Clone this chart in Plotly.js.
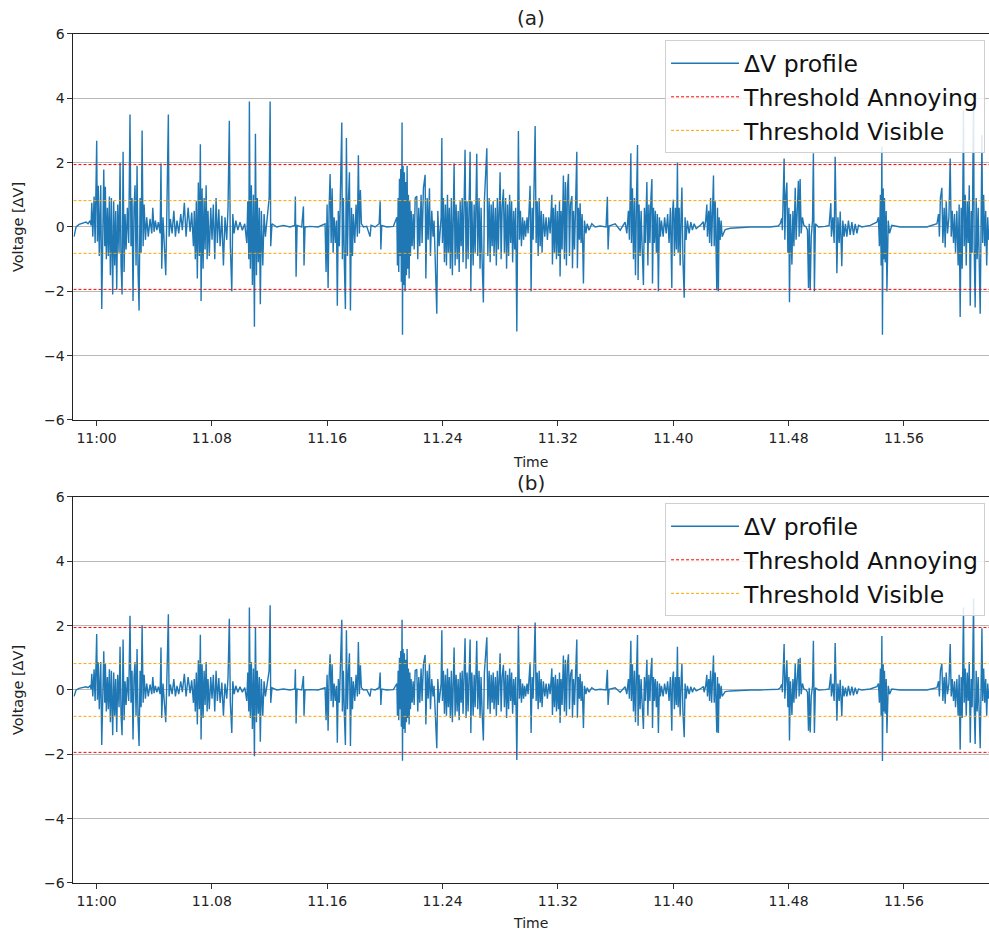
<!DOCTYPE html>
<html><head><meta charset="utf-8">
<script src="https://cdn.plot.ly/plotly-3.0.1.min.js"></script>
<style>html,body{margin:0;padding:0;background:#fff}</style>
</head><body><div id="chart" style="width:989px;height:931px"></div>
<script>
// time in minutes after 11:00
const timeMin = [
-1.56,-1.42,-1.21,-0.94,-0.73,-0.59,-0.45,-0.38,-0.33,-0.26,
-0.17,-0.10,0.01,0.06,0.12,0.19,0.29,0.36,0.43,0.50,
0.57,0.61,0.68,0.75,0.82,0.89,0.96,1.03,1.12,1.19,
1.26,1.33,1.40,1.47,1.56,1.63,1.70,1.77,1.84,1.91,
1.98,2.05,2.14,2.23,2.32,2.39,2.46,2.53,2.60,2.67,
2.74,2.81,2.88,2.95,3.02,3.09,3.16,3.23,3.30,3.39,
3.48,3.59,3.71,3.83,3.90,3.99,4.08,4.18,4.29,4.41,
4.47,4.52,4.61,4.70,4.80,4.87,4.98,5.03,5.12,5.24,
5.36,5.47,5.58,5.70,5.84,5.95,6.09,6.21,6.35,6.49,
6.60,6.72,6.78,6.85,6.92,6.99,7.06,7.13,7.20,7.25,
7.32,7.39,7.46,7.53,7.60,7.67,7.73,7.82,7.92,8.01,
8.10,8.20,8.29,8.38,8.48,8.57,8.69,8.80,8.91,9.03,
9.12,9.21,9.28,9.38,9.45,9.54,9.66,9.80,9.95,10.11,
10.28,10.42,10.49,10.56,10.60,10.67,10.74,10.81,10.88,10.95,
11.02,11.09,11.15,11.22,11.29,11.36,11.43,11.53,11.62,11.71,
11.81,11.90,11.97,12.04,12.08,12.17,12.50,12.96,13.42,13.75,
13.79,13.84,13.91,14.23,14.35,14.39,14.46,14.81,15.37,15.85,
15.92,15.99,16.06,16.13,16.20,16.27,16.34,16.41,16.48,16.57,
16.64,16.70,16.77,16.84,16.91,17.01,17.05,17.12,17.19,17.26,
17.33,17.40,17.47,17.54,17.61,17.68,17.75,17.81,17.91,18.00,
18.09,18.16,18.23,18.30,18.37,18.51,18.74,18.97,19.04,19.32,
19.60,19.67,19.72,19.78,20.13,20.59,20.83,20.87,20.92,20.96,
21.01,21.05,21.10,21.14,21.19,21.22,21.26,21.31,21.35,21.40,
21.45,21.49,21.54,21.59,21.63,21.68,21.73,21.77,21.82,21.89,
21.96,22.03,22.10,22.21,22.28,22.35,22.42,22.51,22.58,22.67,
22.79,22.84,22.93,23.00,23.09,23.16,23.25,23.34,23.41,23.60,
23.67,23.76,23.90,23.95,23.99,24.06,24.13,24.20,24.27,24.34,
24.40,24.47,24.54,24.61,24.68,24.80,24.87,24.94,25.01,25.08,
25.15,25.22,25.29,25.36,25.42,25.49,25.56,25.63,25.70,25.77,
25.84,25.91,25.96,26.03,26.12,26.19,26.26,26.37,26.44,26.53,
26.60,26.67,26.74,26.83,26.90,27.07,27.14,27.23,27.30,27.37,
27.44,27.51,27.57,27.66,27.73,27.80,27.87,27.99,28.06,28.13,
28.22,28.29,28.37,28.44,28.51,28.58,28.65,28.72,28.79,28.86,
28.93,29.00,29.07,29.15,29.26,29.33,29.40,29.47,29.55,29.62,
29.69,29.76,29.86,29.93,30.07,30.14,30.21,30.28,30.42,30.49,
30.56,30.63,30.70,30.77,30.84,30.90,30.99,31.09,31.18,31.27,
31.37,31.46,31.58,31.62,31.69,31.76,31.83,31.90,31.97,32.04,
32.11,32.15,32.22,32.29,32.38,32.45,32.52,32.59,32.66,32.73,
32.80,32.87,32.97,33.01,33.08,33.15,33.21,33.31,33.35,33.42,
33.49,33.54,33.61,33.68,33.77,33.84,33.94,34.03,34.16,34.35,
34.58,34.93,35.34,35.43,35.48,35.55,35.97,36.32,36.66,36.78,
36.89,36.96,37.06,37.10,37.17,37.24,37.31,37.38,37.45,37.52,
37.56,37.63,37.70,37.77,37.84,37.93,38.00,38.07,38.17,38.24,
38.31,38.38,38.45,38.52,38.56,38.63,38.69,38.76,38.83,38.90,
38.97,39.04,39.11,39.18,39.30,39.40,39.51,39.61,39.71,39.80,
39.90,39.94,40.01,40.08,40.15,40.22,40.29,40.34,40.41,40.48,
40.55,40.60,40.67,40.76,40.82,40.89,40.98,41.10,41.22,41.33,
41.45,41.59,41.73,41.87,42.09,42.14,42.25,42.33,42.37,42.46,
42.52,42.59,42.66,42.73,42.79,42.84,42.91,43.02,43.07,43.13,
43.18,43.25,43.32,43.39,43.48,43.60,43.95,44.64,45.33,46.03,
46.72,47.28,47.42,47.53,47.57,47.69,47.74,47.81,47.88,47.95,
48.02,48.06,48.13,48.23,48.30,48.37,48.46,48.52,48.59,48.68,
48.73,48.80,48.87,48.96,49.06,49.22,49.31,49.38,49.43,49.50,
49.57,49.66,49.72,49.79,49.86,50.07,50.54,50.81,50.93,50.97,
51.07,51.16,51.23,51.30,51.35,51.42,51.51,51.58,51.65,51.69,
51.76,51.85,51.94,52.04,52.15,52.27,52.39,52.50,52.62,52.74,
52.85,53.08,53.66,54.12,54.23,54.30,54.37,54.42,54.47,54.51,
54.56,54.61,54.65,54.70,54.77,54.82,54.91,55.00,55.16,55.74,
56.66,57.59,58.29,58.40,58.46,58.53,58.63,58.70,58.79,58.86,
58.93,59.02,59.12,59.21,59.28,59.35,59.44,59.51,59.58,59.67,
59.76,59.83,59.90,59.97,60.04,60.13,60.18,60.25,60.32,60.39,
60.46,60.53,60.60,60.67,60.73,60.83,60.87,60.94,61.01,61.08,
61.15,61.22,61.29,61.41,61.46,61.53,61.60,61.67,61.74,61.81,
61.88,61.98];

// panel (a) voltage deviation
const dvA = [
-0.30,0.00,0.08,0.12,0.15,0.10,0.20,0.05,0.75,-0.30,
0.95,-0.50,2.68,-0.45,1.28,-0.90,1.30,-2.55,0.80,1.79,
-0.60,1.25,-1.00,0.60,-0.90,0.95,-1.50,0.90,-2.10,0.80,
-1.20,0.50,-1.95,0.70,-0.80,2.00,-1.20,-2.10,2.34,-1.40,
0.40,-0.70,0.60,-0.50,3.50,-0.60,0.90,-2.30,0.60,1.30,
-1.20,1.90,-1.40,-2.60,0.90,-0.80,3.00,-0.60,0.70,-0.40,
0.30,-0.30,0.25,-0.20,0.60,-0.15,0.20,-0.10,0.15,-0.20,
1.97,-1.30,0.30,-0.40,-1.50,0.30,3.50,-0.30,0.25,-0.20,
0.50,-0.30,0.20,-0.20,0.40,-0.10,0.75,-0.30,0.60,-0.15,
0.45,-0.60,0.50,-1.00,0.80,-1.60,1.38,-0.90,2.57,-2.30,
1.20,-1.30,0.90,-0.70,1.30,-1.00,0.50,-0.90,0.60,-0.40,
0.70,-1.00,0.90,-0.50,0.55,-0.60,0.35,-1.20,0.30,-0.40,
0.60,3.30,-0.60,-2.00,0.40,-0.20,0.20,-0.10,0.15,-0.10,
0.10,-0.50,0.80,-1.00,3.90,-1.30,1.30,-1.80,1.00,-3.10,
2.90,-1.50,0.90,-1.10,0.60,-2.40,0.50,-1.20,0.40,-0.30,
0.20,0.80,0.90,3.90,-0.60,0.10,0.00,0.05,0.00,0.05,
0.95,-1.55,0.05,0.00,0.64,-1.20,0.00,0.02,0.00,0.10,
-1.40,0.70,-1.90,0.60,1.65,-0.50,1.20,-0.80,0.30,-0.50,
0.20,-2.45,0.50,-0.60,0.80,3.25,-1.00,0.90,-1.20,-2.55,
2.77,-0.90,0.80,1.70,-2.60,0.60,-0.90,0.40,-0.50,0.70,
-0.30,2.23,-0.20,1.15,0.10,0.00,0.02,-0.30,0.05,0.00,
0.10,0.80,-0.70,0.05,0.00,0.02,0.30,-1.20,0.90,-1.40,
1.50,-0.90,1.80,-1.70,3.25,-3.35,1.90,-1.80,1.70,-2.00,
1.40,-1.50,1.90,-1.30,1.00,-1.60,0.80,-0.90,0.50,-0.60,
0.40,-0.70,0.90,0.96,-1.00,0.60,-0.60,1.00,-0.50,1.20,
1.62,-1.60,0.90,-0.40,1.20,-0.90,0.50,-0.30,0.20,-2.70,
0.50,-0.60,0.30,2.77,-0.50,0.90,-1.10,0.70,-1.20,1.00,
-0.80,0.60,-1.30,0.90,-1.50,1.97,-1.20,0.70,-1.00,0.50,
-1.40,0.80,-0.60,0.90,-1.10,1.00,2.40,-1.30,0.80,-1.00,
0.60,2.34,-2.00,0.80,-1.20,0.70,-0.80,2.28,-0.90,0.90,
-1.30,0.60,-1.00,-2.35,0.80,2.45,-0.90,0.90,-1.10,0.70,
-0.60,0.80,-0.90,0.60,-1.20,0.90,-0.70,1.70,-1.00,0.60,
1.17,-0.80,0.90,-1.30,0.70,-0.90,1.00,-0.50,0.80,-1.10,
0.50,-0.70,0.60,-3.25,2.98,-0.40,0.50,-0.60,0.30,-0.40,
0.20,-0.30,0.30,-0.20,1.28,-2.00,0.60,-0.40,3.14,-0.50,
0.80,-0.90,0.90,-0.60,0.50,-0.80,0.40,-0.30,0.30,-0.40,
0.30,-0.20,1.00,-1.17,0.60,-0.80,0.70,-1.00,0.50,-0.90,
0.80,-1.54,0.50,-0.70,1.60,-1.00,1.40,-1.20,1.20,1.65,
-0.90,0.70,0.96,-1.28,0.50,-0.70,0.40,2.34,-1.28,0.60,
-0.40,0.74,-0.50,0.40,-1.76,0.20,-0.20,0.10,-0.10,0.10,
0.00,0.03,0.00,0.94,-0.70,0.03,0.10,-0.10,0.15,-0.20,
0.50,-0.40,2.29,-0.50,1.20,-1.00,0.90,-1.50,0.80,2.55,
-1.65,0.70,-0.90,0.50,-0.60,-1.80,0.60,-0.50,1.40,-1.20,
0.70,-0.50,0.90,1.49,-1.76,0.60,-0.50,0.50,-0.80,0.40,
-2.00,0.30,-0.30,0.20,-0.30,0.30,-0.20,0.40,-0.50,0.60,
-1.90,0.40,0.85,-0.90,0.60,-0.70,2.00,-0.80,0.60,-1.20,
0.50,1.23,-1.00,-2.20,0.30,-0.40,0.20,-0.20,0.15,-0.10,
0.10,-0.05,0.00,0.05,0.16,-0.10,0.20,0.70,-0.30,0.50,
-0.50,0.90,-0.60,1.20,1.60,-0.60,0.80,-1.97,0.60,-2.00,
0.30,-0.40,0.20,-0.30,-0.20,-0.08,-0.04,-0.01,0.00,0.00,
0.00,0.03,0.10,0.27,-0.10,2.13,-0.40,1.00,1.38,-0.80,
0.60,-2.34,0.40,-1.17,0.50,-0.60,1.22,-0.40,0.60,1.44,
-0.30,1.49,-0.20,0.30,0.05,0.00,-0.10,-1.90,0.10,-1.97,
-0.30,0.20,2.29,-2.00,0.10,0.00,0.02,0.05,0.74,-0.30,
0.30,-0.50,2.18,-0.60,-1.44,0.30,-0.50,0.48,-0.30,-1.22,
0.20,-0.30,0.10,-0.30,0.20,-0.25,0.15,-0.25,0.10,-0.20,
0.05,0.00,0.05,0.15,0.30,-0.60,1.00,-1.20,2.50,-3.35,
1.20,-1.00,0.90,-1.10,0.50,-2.00,0.20,-0.20,0.05,0.00,
0.00,0.00,0.10,0.40,-0.30,0.90,1.22,-0.50,0.60,-0.64,
0.80,-0.20,0.30,2.13,-0.30,0.50,-0.50,0.40,-0.80,0.50,
-1.20,0.70,-2.80,0.60,-1.30,3.63,-0.60,1.00,-1.20,0.80,
-0.50,1.30,-2.45,0.50,-0.80,4.20,-0.60,-2.50,0.90,-1.00,
0.60,-0.80,-2.70,2.86,-0.50,1.00,-0.60,0.50,-1.20,0.30,
-0.40,0.10];

// panel (b) voltage deviation
const dvB = [
-0.20,0.00,0.05,0.08,0.10,0.07,0.13,0.03,0.50,-0.20,
0.64,-0.34,1.74,-0.30,0.86,-0.60,0.87,-1.71,0.54,1.20,
-0.40,0.84,-0.67,0.40,-0.60,0.64,-1.00,0.60,-1.41,0.54,
-0.80,0.34,-1.31,0.47,-0.54,1.34,-0.80,-1.41,1.57,-0.94,
0.27,-0.47,0.40,-0.34,2.31,-0.40,0.60,-1.54,0.40,0.87,
-0.80,1.27,-0.94,-1.74,0.60,-0.54,2.01,-0.40,0.47,-0.27,
0.20,-0.20,0.17,-0.13,0.40,-0.10,0.13,-0.07,0.10,-0.13,
1.32,-0.87,0.20,-0.27,-1.00,0.20,2.35,-0.20,0.17,-0.13,
0.34,-0.20,0.13,-0.13,0.27,-0.07,0.50,-0.20,0.40,-0.10,
0.30,-0.40,0.34,-0.67,0.54,-1.07,0.92,-0.60,1.72,-1.54,
0.80,-0.87,0.60,-0.47,0.87,-0.67,0.34,-0.60,0.40,-0.27,
0.47,-0.67,0.60,-0.34,0.37,-0.40,0.23,-0.80,0.20,-0.27,
0.40,2.21,-0.40,-1.34,0.27,-0.13,0.13,-0.07,0.10,-0.07,
0.07,-0.34,0.54,-0.67,2.56,-0.87,0.87,-1.21,0.67,-2.06,
1.94,-1.00,0.60,-0.74,0.40,-1.61,0.34,-0.80,0.27,-0.20,
0.13,0.54,0.60,2.63,-0.40,0.07,0.00,0.03,0.00,0.03,
0.64,-1.04,0.03,0.00,0.43,-0.80,0.00,0.01,0.00,0.07,
-0.94,0.47,-1.27,0.40,1.11,-0.34,0.80,-0.54,0.20,-0.34,
0.13,-1.64,0.34,-0.40,0.54,2.18,-0.67,0.60,-0.80,-1.71,
1.86,-0.60,0.54,1.14,-1.74,0.40,-0.60,0.27,-0.34,0.47,
-0.20,1.49,-0.13,0.77,0.07,0.00,0.01,-0.20,0.03,0.00,
0.07,0.54,-0.47,0.03,0.00,0.01,0.20,-0.80,0.60,-0.94,
1.00,-0.60,1.21,-1.14,2.18,-2.20,1.27,-1.21,1.14,-1.34,
0.94,-1.00,1.27,-0.87,0.67,-1.07,0.54,-0.60,0.34,-0.40,
0.27,-0.47,0.60,0.64,-0.67,0.40,-0.40,0.67,-0.34,0.80,
1.09,-1.07,0.60,-0.27,0.80,-0.60,0.34,-0.20,0.13,-1.81,
0.34,-0.40,0.20,1.86,-0.34,0.60,-0.74,0.47,-0.80,0.67,
-0.54,0.40,-0.87,0.60,-1.00,1.32,-0.80,0.47,-0.67,0.34,
-0.94,0.54,-0.40,0.60,-0.74,0.67,1.61,-0.87,0.54,-0.67,
0.40,1.57,-1.34,0.54,-0.80,0.47,-0.54,1.53,-0.60,0.60,
-0.87,0.40,-0.67,-1.57,0.54,1.64,-0.60,0.60,-0.74,0.47,
-0.40,0.54,-0.60,0.40,-0.80,0.60,-0.47,1.14,-0.67,0.40,
0.78,-0.54,0.60,-0.87,0.47,-0.60,0.67,-0.34,0.54,-0.74,
0.34,-0.47,0.40,-2.18,2.00,-0.27,0.34,-0.40,0.20,-0.27,
0.13,-0.20,0.20,-0.13,0.86,-1.34,0.40,-0.27,2.10,-0.34,
0.54,-0.60,0.60,-0.40,0.34,-0.54,0.27,-0.20,0.20,-0.27,
0.20,-0.13,0.67,-0.78,0.40,-0.54,0.47,-0.67,0.34,-0.60,
0.54,-1.03,0.34,-0.47,1.07,-0.67,0.94,-0.80,0.80,1.11,
-0.60,0.47,0.64,-0.86,0.34,-0.47,0.27,1.57,-0.86,0.40,
-0.27,0.50,-0.34,0.27,-1.18,0.13,-0.13,0.07,-0.07,0.07,
0.00,0.02,0.00,0.63,-0.47,0.02,0.07,-0.07,0.10,-0.13,
0.34,-0.27,1.53,-0.34,0.80,-0.67,0.60,-1.00,0.54,1.71,
-1.11,0.47,-0.60,0.34,-0.40,-1.21,0.40,-0.34,0.94,-0.80,
0.47,-0.34,0.60,1.00,-1.18,0.40,-0.34,0.34,-0.54,0.27,
-1.34,0.20,-0.20,0.13,-0.20,0.20,-0.13,0.27,-0.34,0.40,
-1.27,0.27,0.57,-0.60,0.40,-0.47,1.34,-0.54,0.40,-0.80,
0.34,0.82,-0.67,-1.47,0.20,-0.27,0.13,-0.13,0.10,-0.07,
0.07,-0.03,0.00,0.03,0.11,-0.07,0.13,0.47,-0.20,0.34,
-0.34,0.60,-0.40,0.80,1.07,-0.40,0.54,-1.32,0.40,-1.34,
0.20,-0.27,0.13,-0.20,-0.13,-0.05,-0.03,-0.01,0.00,0.00,
0.00,0.02,0.07,0.18,-0.07,1.43,-0.27,0.67,0.92,-0.54,
0.40,-1.57,0.27,-0.78,0.34,-0.40,0.82,-0.27,0.40,0.96,
-0.20,1.00,-0.13,0.20,0.03,0.00,-0.07,-1.27,0.07,-1.32,
-0.20,0.13,1.53,-1.34,0.07,0.00,0.01,0.03,0.50,-0.20,
0.20,-0.34,1.46,-0.40,-0.96,0.20,-0.34,0.32,-0.20,-0.82,
0.13,-0.20,0.07,-0.20,0.13,-0.17,0.10,-0.17,0.07,-0.13,
0.03,0.00,0.03,0.10,0.20,-0.40,0.67,-0.80,1.68,-2.21,
0.80,-0.67,0.60,-0.74,0.34,-1.34,0.13,-0.13,0.03,0.00,
0.00,0.00,0.07,0.27,-0.20,0.60,0.82,-0.34,0.40,-0.43,
0.54,-0.13,0.20,1.43,-0.20,0.34,-0.34,0.27,-0.54,0.34,
-0.80,0.47,-1.86,0.40,-0.87,2.56,-0.40,0.67,-0.80,0.54,
-0.34,0.87,-1.64,0.34,-0.54,2.84,-0.40,-1.68,0.60,-0.67,
0.40,-0.54,-1.81,1.92,-0.34,0.67,-0.40,0.34,-0.80,0.20,
-0.27,0.07];

const tickVals = [0, 8, 16, 24, 32, 40, 48, 56];
const tickText = ['11:00', '11.08', '11.16', '11.24', '11.32', '11.40', '11.48', '11.56'];
const yTickVals = [-6, -4, -2, 0, 2, 4, 6];
const thresholdAnnoying = 1.94;
const thresholdVisible = 0.82;
const timeSpan = [-1.6, 61.9];
const seriesNames = ['ΔV profile', 'Threshold Annoying', 'Threshold Visible'];

const FONT = 'DejaVu Sans, Arial, sans-serif';
const BLUE = '#1f77b4', RED = '#ff0000', ORANGE = '#ffa500';

function thrX() { return [timeSpan[0], timeSpan[1], null, timeSpan[0], timeSpan[1]]; }
function thrY(v) { return [v, v, null, -v, -v]; }

function panelTraces(y, xa, ya, leg) {
  return [
    {x: timeMin, y: y, type: 'scatter', mode: 'lines', name: seriesNames[0],
     line: {color: BLUE, width: 1.4}, xaxis: xa, yaxis: ya, legend: leg},
    {x: thrX(), y: thrY(thresholdAnnoying), type: 'scatter', mode: 'lines', name: seriesNames[1],
     line: {color: RED, width: 1, dash: '3px,2px'}, xaxis: xa, yaxis: ya, legend: leg, connectgaps: false},
    {x: thrX(), y: thrY(thresholdVisible), type: 'scatter', mode: 'lines', name: seriesNames[2],
     line: {color: ORANGE, width: 1, dash: '3px,2px'}, xaxis: xa, yaxis: ya, legend: leg, connectgaps: false}
  ];
}

const data = [].concat(panelTraces(dvA, 'x', 'y', 'legend'), panelTraces(dvB, 'x2', 'y2', 'legend2'));

function xAxis(anchor) {
  return {
    domain: [0.0743, 1], anchor: anchor, range: timeSpan,
    tickmode: 'array', tickvals: tickVals, ticktext: tickText,
    ticks: 'outside', ticklen: 5, tickwidth: 1, tickcolor: '#333',
    showline: true, linecolor: '#222', linewidth: 1, mirror: true,
    showgrid: false, zeroline: false,
    tickfont: {family: FONT, size: 14, color: '#222'},
    title: {text: 'Time', font: {family: FONT, size: 14, color: '#222'}, standoff: 12}
  };
}
function yAxis(domain, anchor) {
  return {
    domain: domain, anchor: anchor, range: [-6, 6],
    tickmode: 'array', tickvals: yTickVals,
    ticks: 'outside', ticklen: 5, tickwidth: 1, tickcolor: '#333',
    showline: true, linecolor: '#222', linewidth: 1,
    showgrid: true, gridcolor: '#b8b8b8', gridwidth: 1, zeroline: false,
    tickfont: {family: FONT, size: 14, color: '#222'},
    title: {text: 'Voltage [ΔV]', font: {family: FONT, size: 14.5, color: '#222'}, standoff: 16}
  };
}
function legendCfg(yTop) {
  return {
    x: 0.996, xanchor: 'right', y: yTop, yanchor: 'top',
    bgcolor: 'rgba(255,255,255,0.85)', bordercolor: '#d0d0d0', borderwidth: 1,
    itemwidth: 68,
    font: {family: FONT, size: 23.5, color: '#111'}
  };
}

const layout = {
  width: 989, height: 931,
  margin: {l: 0, r: 0, t: 0, b: 0},
  paper_bgcolor: '#fff', plot_bgcolor: '#fff',
  showlegend: true,
  font: {family: FONT},
  xaxis: xAxis('y'),
  yaxis: yAxis([0.5489, 0.9635], 'x'),
  xaxis2: xAxis('y2'),
  yaxis2: yAxis([0.0516, 0.4662], 'x2'),
  legend: legendCfg(0.9565),
  legend2: legendCfg(0.4592),
  annotations: [
    {text: '(a)', x: 0.537, y: 0.9807, xref: 'paper', yref: 'paper', showarrow: false,
     xanchor: 'center', yanchor: 'middle', font: {family: FONT, size: 20, color: '#222'}},
    {text: '(b)', x: 0.537, y: 0.4812, xref: 'paper', yref: 'paper', showarrow: false,
     xanchor: 'center', yanchor: 'middle', font: {family: FONT, size: 20, color: '#222'}}
  ]
};

Plotly.newPlot('chart', data, layout, {displayModeBar: false, staticPlot: true});
</script>
</body></html>
